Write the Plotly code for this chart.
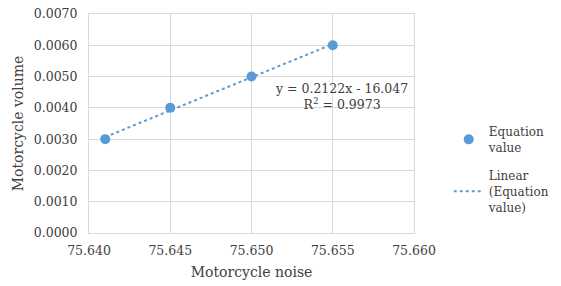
import numpy as np
import plotly.graph_objects as go

noise = [75.641, 75.645, 75.650, 75.655]
volume = [0.003, 0.004, 0.005, 0.006]
x_ticks = [75.640, 75.645, 75.650, 75.655, 75.660]
y_ticks = [0.0, 0.001, 0.002, 0.003, 0.004, 0.005, 0.006, 0.007]

slope, intercept = np.polyfit(noise, volume, 1)
trend_x = [min(noise), max(noise)]
trend_y = [slope * v + intercept for v in trend_x]

FONT = "DejaVu Serif"
TXT = "#404040"
BLUE = "#5B9BD5"
GRID = "#D9D9D9"

fig = go.Figure()
fig.add_trace(go.Scatter(x=noise, y=volume, mode="markers", name="Equation<br>value",
                         legendgroup="pts", marker=dict(color=BLUE, size=10)))
fig.add_trace(go.Scatter(x=trend_x, y=trend_y, mode="lines", name="Linear<br>(Equation<br>value)",
                         legendgroup="fit", line=dict(color=BLUE, width=2, dash="dot")))

fig.add_annotation(x=75.65553, y=0.00437, xref="x", yref="y",
                   text="y = 0.2122x - 16.047<br>R<sup>2</sup> = 0.9973",
                   showarrow=False, align="center",
                   font=dict(family=FONT, size=12.5, color=TXT))

fig.update_layout(
    width=553, height=278,
    margin=dict(l=81, r=147, t=6, b=53),
    paper_bgcolor="white", plot_bgcolor="white",
    font=dict(family=FONT, size=12.5, color=TXT),
    legend=dict(xref="container", yref="container", x=0.797, y=0.42,
                xanchor="left", yanchor="middle",
                font=dict(family=FONT, size=12, color=TXT),
                tracegroupgap=10, itemwidth=30),
    xaxis=dict(range=[75.640, 75.660], tickvals=x_ticks,
               ticktext=[f"{v:.3f}" for v in x_ticks],
               showgrid=True, gridcolor=GRID, gridwidth=1,
               showline=True, linecolor=GRID, linewidth=1, mirror=True,
               zeroline=False, ticks="", ticklabelstandoff=6, automargin=False,
               ticklabeloverflow="allow",
               title=dict(text="Motorcycle noise", font=dict(family=FONT, size=14, color=TXT), standoff=10)),
    yaxis=dict(range=[0, 0.007], tickvals=y_ticks,
               ticktext=[f"{v:.4f}" for v in y_ticks],
               showgrid=True, gridcolor=GRID, gridwidth=1,
               showline=True, linecolor=GRID, linewidth=1, mirror=True,
               zeroline=False, ticks="", ticklabelstandoff=8, automargin=False,
               ticklabeloverflow="allow",
               title=dict(text="Motorcycle volume", font=dict(family=FONT, size=14, color=TXT), standoff=6)),
)

fig.write_html("out.html")
